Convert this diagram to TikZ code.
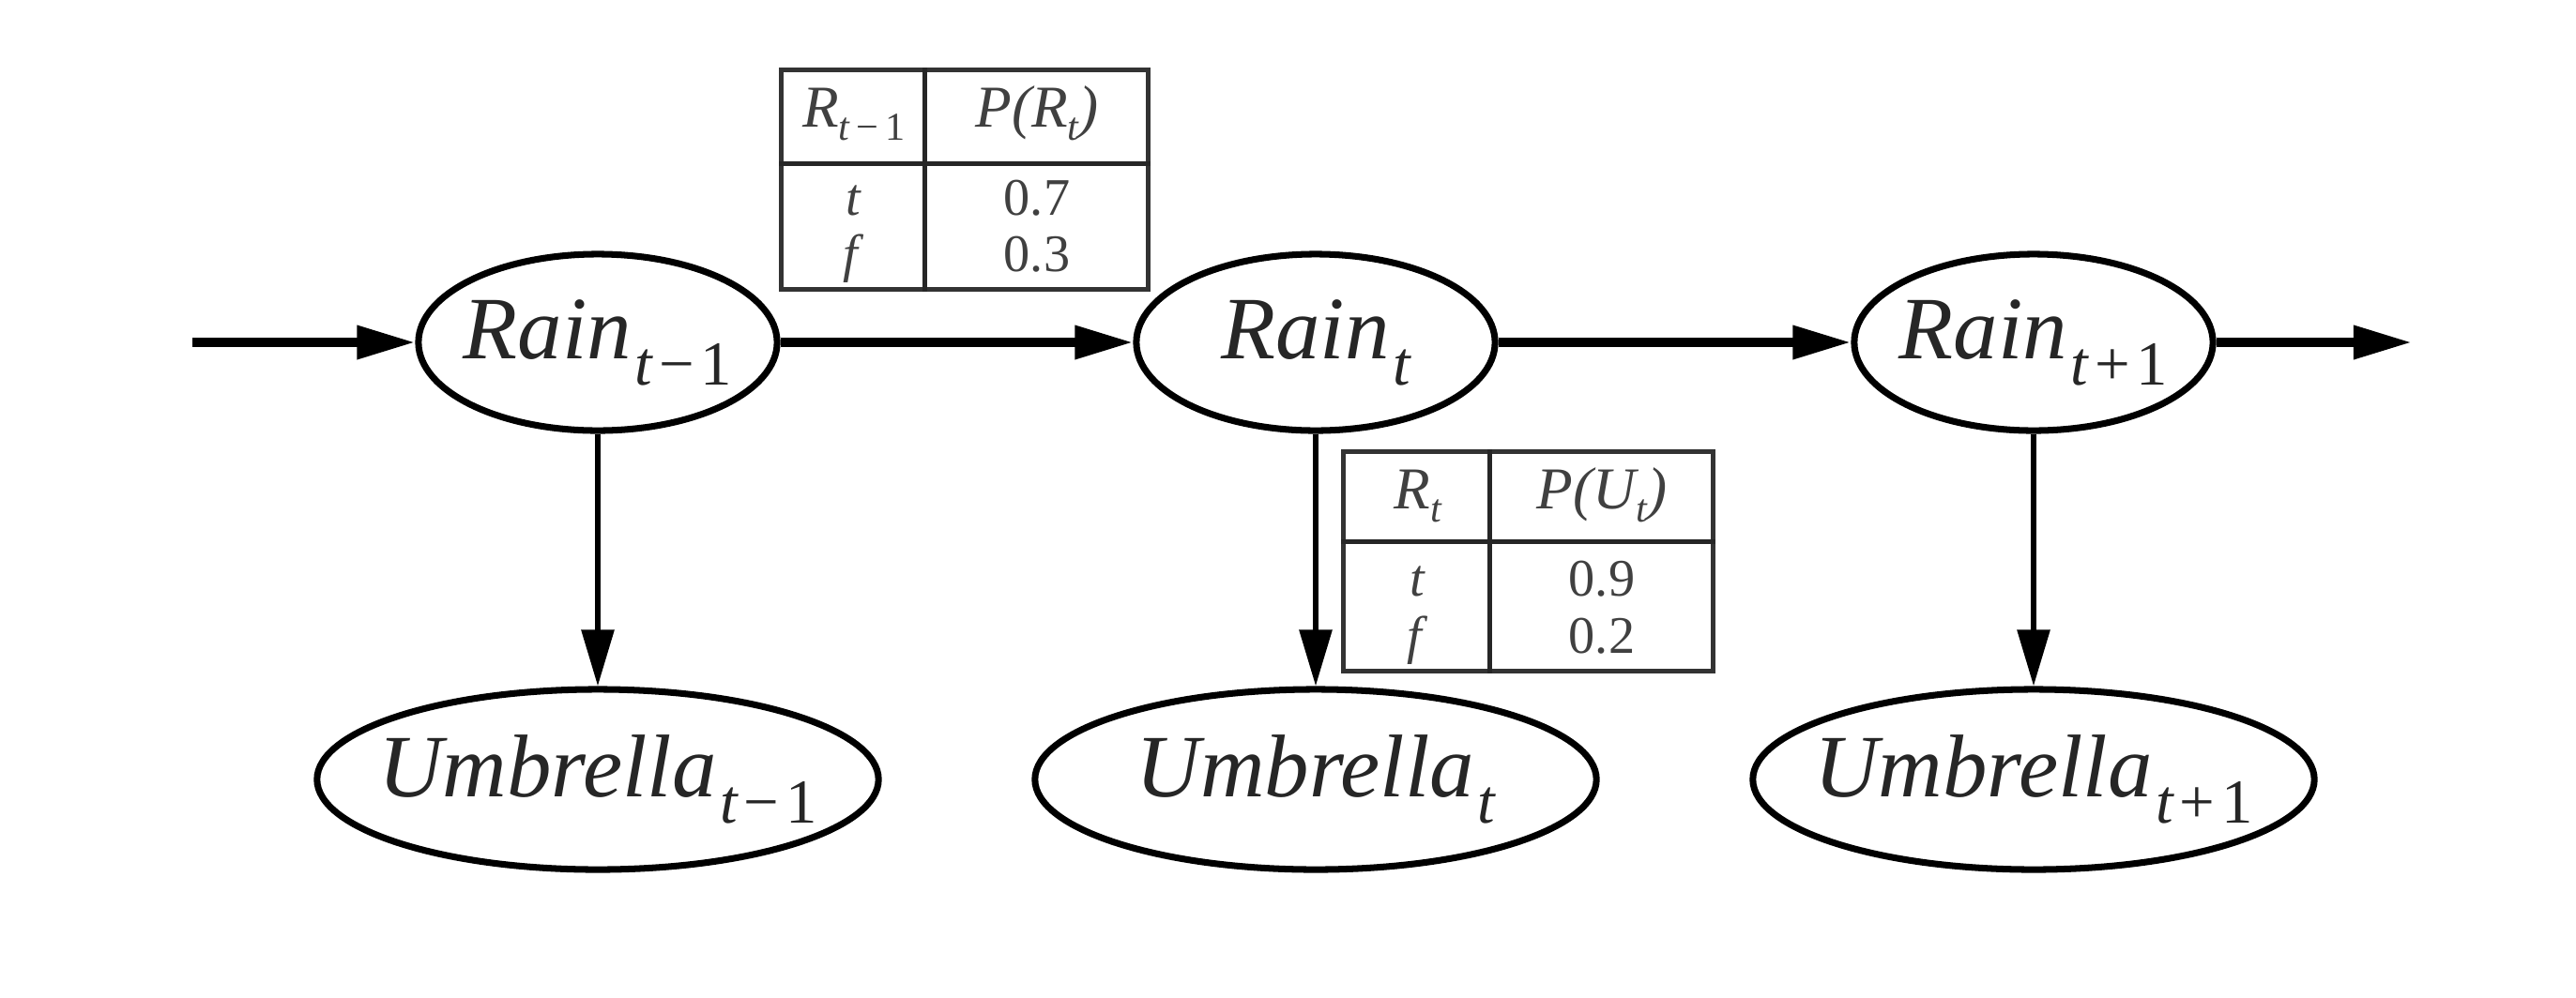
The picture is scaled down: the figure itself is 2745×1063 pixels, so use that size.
\documentclass[tikz,border=0pt]{standalone}
\usepackage{fontspec}
\setmainfont{Liberation Serif}
\usetikzlibrary{arrows.meta,shapes.geometric}
\newcommand\nsub[1]{\kern1pt\raisebox{-8pt}{\fontsize{19}{19}\selectfont #1}}
\newcommand\tsub[1]{\raisebox{-4pt}{\fontsize{12}{12}\selectfont #1}}
\newcommand\umn{\kern2pt\textup{−}\kern2pt\textup{1}}
\newcommand\upl{\kern2pt\textup{+}\kern2pt\textup{1}}
\newcommand\lbl[1]{\makebox[0pt][c]{#1}}
\begin{document}
\begin{tikzpicture}[x=0.01cm,y=-0.01cm,
  var/.style={draw=black, line width=2pt, ellipse, inner sep=0pt,
    font=\fontsize{27}{30}\selectfont\itshape, text=black!85},
  rainnode/.style={var, minimum width=3.82cm, minimum height=1.88cm},
  umbnode/.style={var, minimum width=5.98cm, minimum height=1.92cm},
  hedge/.style={line width=2.8pt, -{Triangle[length=0.62cm,width=0.34cm]}},
  vedge/.style={line width=1.7pt, -{Triangle[length=0.6cm,width=0.34cm]}},
  cpt/.style={draw=black!80, line width=1.4pt, fill=white, inner sep=0pt},
  cptline/.style={draw=black!85, line width=1.4pt},
  cell/.style={inner sep=0pt, anchor=base, font=\fontsize{16}{18}\selectfont, text=black!75},
  hcell/.style={cell, font=\fontsize{18}{20}\selectfont\itshape},
]
\useasboundingbox (0,0) rectangle (2745,1063);

% variables
\node[rainnode] (r0) at (637,365) {\lbl{Rain\nsub{t\umn}}};
\node[rainnode] (r1) at (1402,365) {\lbl{Rain\nsub{t}}};
\node[rainnode] (r2) at (2167,365) {\lbl{Rain\nsub{t\upl}}};
\node[umbnode] (u0) at (637,831) {\lbl{Umbrella\nsub{t\umn}}};
\node[umbnode] (u1) at (1402,831) {\lbl{Umbrella\nsub{t}}};
\node[umbnode] (u2) at (2167,831) {\lbl{Umbrella\nsub{t\upl}}};

\coordinate (in) at (205,365);
\coordinate (out) at (2570,365);

% connectors
\draw[hedge] (in) -- (r0);
\draw[hedge] (r0) -- (r1);
\draw[hedge] (r1) -- (r2);
\draw[hedge] (r2) -- (out);
\draw[vedge] (r0) -- (u0);
\draw[vedge] (r1) -- (u1);
\draw[vedge] (r2) -- (u2);

% CPT for Rain_t
\node[cpt, minimum width=3.9cm, minimum height=2.33cm] (cpt1) at (1028,191.5) {};
\draw[cptline] ([xshift=1.55cm]cpt1.north west) -- ([xshift=1.55cm]cpt1.south west);
\draw[cptline] ([yshift=-1.02cm]cpt1.north west) -- ([yshift=-1.02cm]cpt1.north east);
\node[hcell] (c1h1) at (910,135) {R\tsub{t\,\textup{−}\,\textup{1}}};
\node[hcell] (c1h2) at (1105,135) {P(R\tsub{t})};
\node[cell] (c1a) at (910,229) {\textit{t}};
\node[cell] (c1b) at (910,289) {\textit{f}};
\node[cell] (c1c) at (1105,229) {0.7};
\node[cell] (c1d) at (1105,289) {0.3};

% CPT for Umbrella_t
\node[cpt, minimum width=3.93cm, minimum height=2.33cm] (cpt2) at (1628.5,598.5) {};
\draw[cptline] ([xshift=1.58cm]cpt2.north west) -- ([xshift=1.58cm]cpt2.south west);
\draw[cptline] ([yshift=-0.98cm]cpt2.north west) -- ([yshift=-0.98cm]cpt2.north east);
\node[hcell] (c2h1) at (1511,542) {R\tsub{t}};
\node[hcell] (c2h2) at (1707,542) {P(U\tsub{t})};
\node[cell] (c2a) at (1511,635) {\textit{t}};
\node[cell] (c2b) at (1511,696) {\textit{f}};
\node[cell] (c2c) at (1707,635) {0.9};
\node[cell] (c2d) at (1707,696) {0.2};
\end{tikzpicture}
\end{document}
